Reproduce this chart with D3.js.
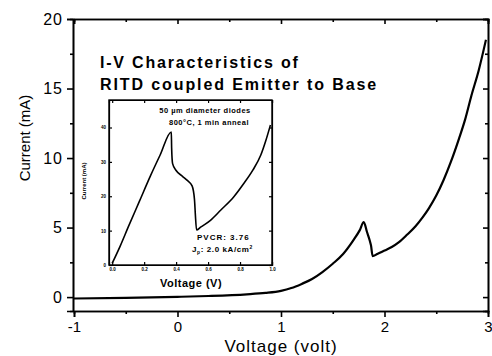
<!DOCTYPE html>
<html lang="en">
<head>
<meta charset="UTF-8">
<title>RITD I-V</title>
<script src="https://d3js.org/d3.v7.min.js"></script>
<style>
  body { margin: 0; background: #fff; }
  svg { display: block; font-family: "Liberation Sans", Arial, sans-serif; }
  .axis path, .axis line { stroke: #000; stroke-width: 1.6; }
  .axis text { font-size: 15px; fill: #000; }
  .inset .axis path, .inset .axis line { stroke-width: 1.2; }
  .inset .axis text { font-size: 4.5px; font-weight: bold; }
</style>
</head>
<body>
<svg width="492" height="356"></svg>
<script>
// main curve: voltage (volt) vs current (mA)
var mainV = [-1, -0.5, 0, 0.3, 0.67, 0.85, 1.0, 1.1, 1.2, 1.3, 1.4, 1.5, 1.6, 1.7, 1.76, 1.80,
             1.83, 1.86, 1.87, 1.885, 1.93, 2.0, 2.07, 2.14, 2.22, 2.3, 2.37, 2.43, 2.5, 2.57, 2.64, 2.72, 2.78, 2.84, 2.91, 2.98];
var mainI = [-0.1, -0.05, 0.02, 0.08, 0.2, 0.3, 0.45, 0.65, 0.95, 1.3, 1.8, 2.4, 3.1, 4.1, 4.8, 5.4,
             4.7, 4.0, 3.7, 2.95, 3.1, 3.35, 3.6, 3.95, 4.5, 5.1, 5.75, 6.4, 7.3, 8.4, 9.7, 11.4, 12.8, 14.5, 16.3, 18.5];

// inset: 50 um diode, voltage (V) vs current (mA)
var insetV = [0.0, 0.05, 0.10, 0.17, 0.24, 0.30, 0.37, 0.372, 0.378, 0.40, 0.44, 0.47, 0.50, 0.515, 0.52, 0.528,
              0.553, 0.615, 0.68, 0.76, 0.82, 0.88, 0.93, 0.96, 0.99];
var insetI = [0.5, 5.5, 11, 18.5, 26, 32, 38.7, 34, 29.5, 27.5, 25.8, 24.6, 23, 19, 15, 10.2,
              11, 13, 16, 19.8, 23.5, 27.6, 32, 36, 40.7];

var xTicks = [-1, 0, 1, 2, 3];
var yTicks = [0, 5, 10, 15, 20];
var insetXTicks = [0.0, 0.2, 0.4, 0.6, 0.8, 1.0];
var insetYTicks = [0, 10, 20, 30, 40];

var svg = d3.select("svg");

var pL = 73, pR = 488, pT = 19, pB = 311;

var x = d3.scaleLinear().domain([-1, 3]).range([pL + 1, pR]);
var y = d3.scaleLinear().domain([-1, 20]).range([pB, pT]);

function halves(ticks) {
  var out = [];
  for (var i = 0; i < ticks.length - 1; i++) out.push((ticks[i] + ticks[i + 1]) / 2);
  return out;
}
var plain = function (d) { return String(d); };  // ascii hyphen for negatives

// frame axes
svg.append("g").attr("class", "axis")
  .attr("transform", "translate(0," + pB + ")")
  .call(d3.axisBottom(x).tickValues(xTicks).tickSize(6).tickPadding(4).tickFormat(plain));
svg.append("g").attr("class", "axis")
  .attr("transform", "translate(0," + pB + ")")
  .call(d3.axisBottom(x).tickValues(halves(xTicks)).tickSize(3).tickFormat(""));
svg.append("g").attr("class", "axis")
  .attr("transform", "translate(0," + pT + ")")
  .call(d3.axisBottom(x).tickValues(xTicks).tickSize(5).tickFormat(""));
svg.append("g").attr("class", "axis")
  .attr("transform", "translate(0," + pT + ")")
  .call(d3.axisBottom(x).tickValues(halves(xTicks)).tickSize(3).tickFormat(""));

svg.append("g").attr("class", "axis")
  .attr("transform", "translate(" + pL + ",0)")
  .call(d3.axisLeft(y).tickValues(yTicks).tickSize(6).tickPadding(4).tickFormat(plain))
  .selectAll("text").style("font-size", "16px").style("letter-spacing", "1px");
svg.append("g").attr("class", "axis")
  .attr("transform", "translate(" + pL + ",0)")
  .call(d3.axisLeft(y).tickValues(halves(yTicks)).tickSize(3).tickFormat(""));
svg.append("g").attr("class", "axis")
  .attr("transform", "translate(" + pR + ",0)")
  .call(d3.axisLeft(y).tickValues(yTicks).tickSize(5).tickFormat(""));
svg.append("g").attr("class", "axis")
  .attr("transform", "translate(" + pR + ",0)")
  .call(d3.axisLeft(y).tickValues(halves(yTicks)).tickSize(3).tickFormat(""));

// main curve
svg.append("path")
  .datum(d3.zip(mainV, mainI))
  .attr("d", d3.line().x(function (d) { return x(d[0]); }).y(function (d) { return y(d[1]); }).curve(d3.curveMonotoneX))
  .attr("fill", "none").attr("stroke", "#000").attr("stroke-width", 2.2);

// labels
svg.append("text").attr("x", 281).attr("y", 352).attr("text-anchor", "middle")
  .style("font-size", "17px").style("letter-spacing", "1px").text("Voltage (volt)");
svg.append("text").attr("transform", "translate(30,138) rotate(-90)").attr("text-anchor", "middle")
  .style("font-size", "15px").text("Current (mA)");

svg.append("text").attr("x", 100).attr("y", 68)
  .style("font-size", "16px").style("font-weight", "bold").style("letter-spacing", "1.8px")
  .text("I-V Characteristics of");
svg.append("text").attr("x", 100).attr("y", 90)
  .style("font-size", "16px").style("font-weight", "bold").style("letter-spacing", "1.9px")
  .text("RITD coupled Emitter to Base");

// inset
var ins = svg.append("g").attr("class", "inset");
var iL = 109, iR = 272, iT = 100, iB = 265;
var ix = d3.scaleLinear().domain([-0.02, 1.0]).range([iL, iR]);
var iy = d3.scaleLinear().domain([0, 48]).range([iB, iT]);

ins.append("rect").attr("x", iL).attr("y", iT).attr("width", iR - iL).attr("height", iB - iT)
  .attr("fill", "#fff").attr("stroke", "#000").attr("stroke-width", 1.4);

ins.append("g").attr("class", "axis")
  .attr("transform", "translate(0," + iB + ")")
  .call(d3.axisTop(ix).tickValues(insetXTicks).tickSize(3).tickFormat(""));
ins.append("g").attr("class", "axis")
  .attr("transform", "translate(0," + iB + ")")
  .call(d3.axisBottom(ix).tickValues(insetXTicks).tickSize(0).tickPadding(3).tickFormat(d3.format(".1f")))
  .select(".domain").remove();
ins.append("g").attr("class", "axis")
  .attr("transform", "translate(0," + iT + ")")
  .call(d3.axisBottom(ix).tickValues(insetXTicks).tickSize(3).tickFormat(""));
ins.append("g").attr("class", "axis")
  .attr("transform", "translate(" + iL + ",0)")
  .call(d3.axisRight(iy).tickValues(insetYTicks).tickSize(3).tickFormat(""));
ins.append("g").attr("class", "axis")
  .attr("transform", "translate(" + iL + ",0)")
  .call(d3.axisLeft(iy).tickValues(insetYTicks).tickSize(0).tickPadding(3))
  .select(".domain").remove();
ins.append("g").attr("class", "axis")
  .attr("transform", "translate(" + iR + ",0)")
  .call(d3.axisLeft(iy).tickValues(insetYTicks).tickSize(3).tickFormat(""));

ins.append("path")
  .datum(d3.zip(insetV, insetI))
  .attr("d", d3.line().x(function (d) { return ix(d[0]); }).y(function (d) { return iy(d[1]); }).curve(d3.curveMonotoneX))
  .attr("fill", "none").attr("stroke", "#000").attr("stroke-width", 1.6);

ins.append("text").attr("x", 205).attr("y", 113).attr("text-anchor", "middle")
  .style("font-size", "7.5px").style("font-weight", "bold").style("letter-spacing", "0.5px")
  .text("50 \u00b5m diameter diodes");
ins.append("text").attr("x", 209).attr("y", 125).attr("text-anchor", "middle")
  .style("font-size", "7.5px").style("font-weight", "bold").style("letter-spacing", "0.5px")
  .text("800\u00b0C, 1 min anneal");
ins.append("text").attr("x", 197).attr("y", 240)
  .style("font-size", "8px").style("font-weight", "bold").style("letter-spacing", "1px")
  .text("PVCR:  3.76");
var jp = ins.append("text").attr("x", 192).attr("y", 252)
  .style("font-size", "8px").style("font-weight", "bold").style("letter-spacing", "0.6px");
jp.append("tspan").text("J");
jp.append("tspan").attr("dy", 2).style("font-size", "5px").text("p");
jp.append("tspan").attr("dy", -2).text(": 2.0 kA/cm");
jp.append("tspan").attr("dy", -3).style("font-size", "5px").text("2");

ins.append("text").attr("x", 191).attr("y", 287).attr("text-anchor", "middle")
  .style("font-size", "11px").style("font-weight", "bold").style("letter-spacing", "0.5px")
  .text("Voltage (V)");
ins.append("text").attr("transform", "translate(86,181) rotate(-90)").attr("text-anchor", "middle")
  .style("font-size", "6px").style("font-weight", "bold")
  .text("Current (mA)");
</script>
</body>
</html>
